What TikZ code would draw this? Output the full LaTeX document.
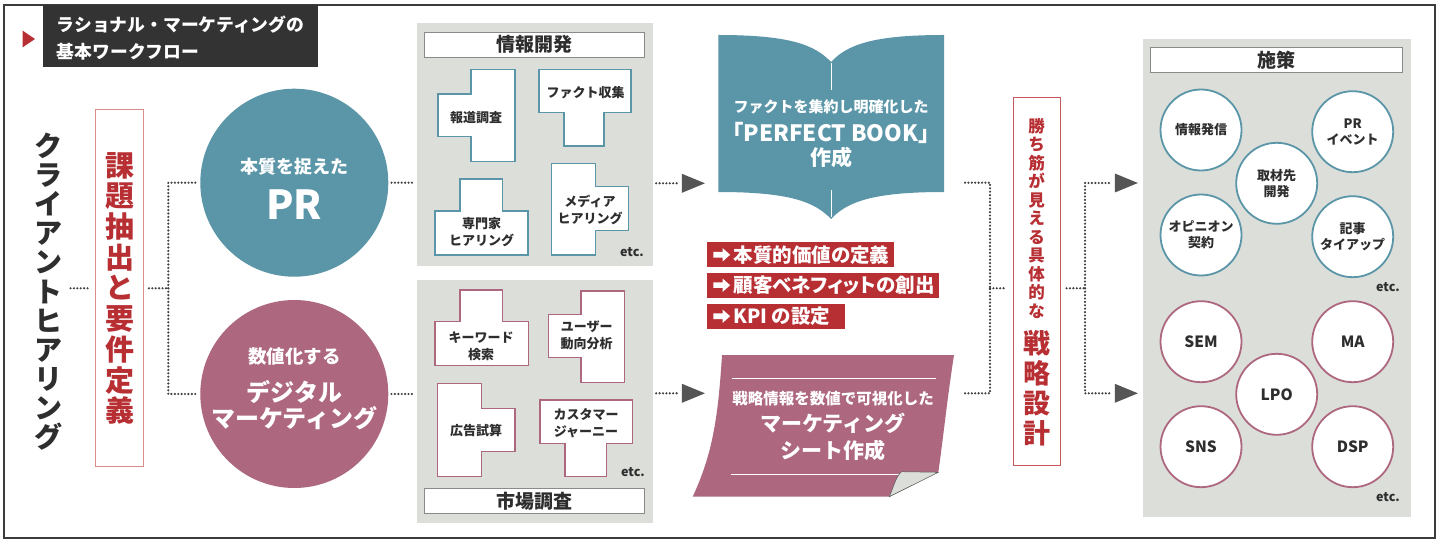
\documentclass[tikz,border=0pt]{standalone}
\usepackage{fontspec}
\setmainfont{Noto Sans CJK JP}
\newfontfamily\jpp{Noto Sans CJK JP}[RawFeature=+palt]
\usetikzlibrary{shapes.geometric}
\newcommand\fsz[2]{\fontsize{#1}{#2}\selectfont}
\newcommand\blockarrow[1]{\fill[white] ([xshift=6.6pt]#1.west) ++(0,-2.8) -- ++(9.4,0) -- ++(0,-3.8) -- ++(7.4,6.6) -- ++(-7.4,6.6) -- ++(0,-3.8) -- ++(-9.4,0) -- cycle;}
\definecolor{cTeal}{HTML}{5B96A8}
\definecolor{cMaroon}{HTML}{AD687F}
\definecolor{cRed}{HTML}{B72F33}
\definecolor{cPanel}{HTML}{DCDEDA}
\definecolor{cDark}{HTML}{333333}
\definecolor{cArrow}{HTML}{555555}
\definecolor{cDot}{HTML}{404040}
\definecolor{cText}{HTML}{2E2E2E}
\definecolor{cPink}{HTML}{DA8C8C}
\definecolor{cTB}{HTML}{8A8A8A}
\definecolor{cFrame}{HTML}{3C3C3C}
\definecolor{cCurl}{HTML}{DCDEDA}
\tikzset{
  dotline/.style={draw=cDot, line width=2.4pt, line cap=round, dash pattern=on 0pt off 3.4pt},
  tri/.style={isosceles triangle, isosceles triangle stretches, fill=cArrow, minimum width=19pt, minimum height=23pt, inner sep=0pt},
  panel/.style={rectangle, fill=cPanel, inner sep=0pt},
  ptitle/.style={rectangle, fill=white, draw=cTB, line width=0.8pt, inner sep=0pt, font=\fsz{19}{22}\bfseries, text=cText},
  etcs/.style={font=\fsz{12.5}{14}\bfseries, text=cText, inner sep=0pt},
  ptext/.style={font=\fsz{13}{17}\bfseries, text=cText, align=center, inner sep=0pt},
  bshape/.style={draw=cTeal, line width=1.5pt, fill=white},
  mshape/.style={draw=cMaroon, line width=1.5pt, fill=white},
  tcirc/.style={circle, draw=cTeal, line width=1.8pt, fill=white, minimum size=81pt, inner sep=0pt, align=center, font=\fsz{13}{16}\bfseries, text=cText},
  mcirc/.style={circle, draw=cMaroon, line width=1.8pt, fill=white, minimum size=81pt, inner sep=0pt, align=center, font=\fsz{15.5}{18}\bfseries, text=cText},
  redlbl/.style={rectangle, fill=cRed, text=white, anchor=west, minimum height=25pt, inner xsep=6.6pt, inner ysep=0pt, font=\fsz{19.5}{22}\bfseries\jpp},
  wtext/.style={text=white, inner sep=0pt, align=center},
}
\begin{document}
\begin{tikzpicture}[x=1pt,y=-1pt]
\useasboundingbox (0,0) rectangle (1440,545);
\fill[white] (0,0) rectangle (1440,545);
% outer frame
\draw[cFrame, line width=2pt] (4,5) rectangle (1435,538);
% title block
\fill[cDark] (43.3,5) rectangle (318.3,67.3);
\node[anchor=west, text=white, inner sep=0pt, font=\fsz{17.8}{20}\bfseries] (title1) at (56.7,25) {ラショナル・マーケティングの};
\node[anchor=west, text=white, inner sep=0pt, font=\fsz{17.8}{20}\bfseries] (title2) at (56.7,51.7) {基本ワークフロー};
\fill[cRed] (22.7,30.7) -- (35,39) -- (22.7,47.3) -- cycle;

% client hearing
\node[font=\fsz{28}{29.1}\bfseries, text=cText, align=center, inner sep=0pt] (client) at (48.3,291.7)
  {ク\\ラ\\イ\\ア\\ン\\ト\\ヒ\\ア\\リ\\ン\\グ};
% issue box
\node[draw=cPink, line width=1.2pt, fill=white, minimum width=47.6pt, minimum height=357.4pt, inner sep=0pt] (issue) at (119.5,288) {};
\node[font=\fsz{29}{30.7}\bfseries, text=cRed, align=center, inner sep=0pt] (issueT) at (119.5,288.3)
  {課\\題\\抽\\出\\と\\要\\件\\定\\義};

% big circles
\node[circle, fill=cTeal, minimum size=188pt, inner sep=0pt] (PR) at (294.3,182.7) {};
\node[wtext, font=\fsz{18}{20}\bfseries] (PRa) at (294.3,166.7) {本質を捉えた};
\node[wtext, font=\fsz{40}{44}\bfseries] (PRb) at (294.3,205) {PR};
\node[circle, fill=cMaroon, minimum size=188pt, inner sep=0pt] (DM) at (294.3,394) {};
\node[wtext, font=\fsz{18.5}{20}\bfseries] (DMa) at (294.3,356) {数値化する};
\node[wtext, font=\fsz{24}{26}\bfseries] (DMb) at (294.3,391.7) {デジタル};
\node[wtext, font=\fsz{24}{26}\bfseries] (DMc) at (294.3,418.3) {マーケティング};

% panels
\node[panel, minimum width=236pt, minimum height=243pt] (infoP) at (535,144.5) {};
\node[panel, minimum width=236pt, minimum height=243pt] (mktP) at (535,401.5) {};
\node[ptitle, minimum width=220pt, minimum height=25pt] (infoT) at (534,44.5) {情報開発};
\node[ptitle, minimum width=220pt, minimum height=25pt] (mktT) at (534,501) {市場調査};

% info shapes
\draw[bshape] (471,69.3) -- (515,69.3) -- (515,161.7) -- (471,161.7) -- (471,136.7) -- (438,136.7) -- (438,94) -- (471,94) -- cycle;
\draw[bshape] (539,69.3) -- (631,69.3) -- (631,112.7) -- (604,112.7) -- (604,146) -- (564,146) -- (564,112.7) -- (539,112.7) -- cycle;
\draw[bshape] (460,179) -- (502.7,179) -- (502.7,211) -- (528,211) -- (528,255) -- (435,255) -- (435,211) -- (460,211) -- cycle;
\draw[bshape] (551.7,163.3) -- (595.7,163.3) -- (595.7,186.7) -- (628.3,186.7) -- (628.3,230.7) -- (595.7,230.7) -- (595.7,255) -- (551.7,255) -- cycle;
\node[ptext] (s1) at (476,117.3) {報道調査};
\node[ptext] (s2) at (585.7,92.7) {ファクト収集};
\node[ptext] (s3) at (481.7,231.7) {専門家\\ヒアリング};
\node[ptext] (s4) at (590,210) {メディア\\ヒアリング};
\node[etcs] (etc1) at (632,252) {etc.};

% market shapes
\draw[mshape] (460,290) -- (502.7,290) -- (502.7,321.7) -- (528.3,321.7) -- (528.3,365.7) -- (435,365.7) -- (435,321.7) -- (460,321.7) -- cycle;
\draw[mshape] (581,291) -- (624.3,291) -- (624.3,382.3) -- (581,382.3) -- (581,357.7) -- (548.3,357.7) -- (548.3,314.3) -- (581,314.3) -- cycle;
\draw[mshape] (437.7,383.3) -- (481.7,383.3) -- (481.7,408.3) -- (515,408.3) -- (515,451.7) -- (481.7,451.7) -- (481.7,476.7) -- (437.7,476.7) -- cycle;
\draw[mshape] (540,400) -- (632.7,400) -- (632.7,443.3) -- (606.7,443.3) -- (606.7,476.7) -- (565,476.7) -- (565,443.3) -- (540,443.3) -- cycle;
\node[ptext] (s5) at (481,345.8) {キーワード\\検索};
\node[ptext] (s6) at (586.7,335.8) {ユーザー\\動向分析};
\node[ptext] (s7) at (476,431) {広告試算};
\node[ptext] (s8) at (586,422.7) {カスタマー\\ジャーニー};
\node[etcs] (etc2) at (633,472) {etc.};

% triangles
\node[tri] (t1) at (688.3,183.3) {};
\node[tri] (t2) at (688.3,393.3) {};
\node[tri] (t3) at (1121.2,183) {};
\node[tri] (t4) at (1121.2,393.3) {};

% book
\fill[cTeal] (718.3,35) .. controls (790,35) and (815,45) .. (831,62)
  .. controls (847,45) and (872,35) .. (944,35) -- (944,192)
  .. controls (872,192) and (847,202) .. (831,219)
  .. controls (815,202) and (790,192) .. (718.3,192) -- cycle;
\draw[white, line width=0.9pt] (831,63) -- (831,90);
\draw[white, line width=0.9pt] (831,190) -- (831,217);
\node[inner sep=0pt, minimum width=226pt, minimum height=184pt] (book) at (831,127) {};
\node[wtext, font=\fsz{15}{17}\bfseries] (bk1) at (831,106.7) {ファクトを集約し明確化した};
\node[wtext, font=\fsz{22.5}{24}\bfseries] (bk2) at (831,133.3) {「PERFECT BOOK」};
\node[wtext, font=\fsz{21}{23}\bfseries] (bk3) at (831,158) {作成};

% red labels
\node[redlbl] (L1) at (706.7,254.8) {\makebox[174.1pt][l]{\hspace{20pt}本質的価値の定義}};
\node[redlbl] (L2) at (706.7,285.2) {\makebox[219.1pt][l]{\hspace{20pt}顧客ベネフィットの創出}};
\node[redlbl] (L3) at (706.7,316.2) {\makebox[125.1pt][l]{\hspace{20pt}KPI の設定}};
\blockarrow{L1}
\blockarrow{L2}
\blockarrow{L3}

% sheet
\fill[cMaroon] (722,355) -- (954,355) .. controls (947,400) and (943,440) .. (938.3,472.3)
  -- (889.3,496.7) -- (692.7,496.7) .. controls (712,455) and (718,420) .. (722,355) -- cycle;
\draw[white, line width=0.8pt] (732,378.3) -- (936,378.3);
\draw[white, line width=0.8pt] (731,474) -- (901.7,474);
\filldraw[fill=cCurl, draw=cArrow, line width=0.5pt] (889.3,496.7) .. controls (894,486) and (896,476) .. (901.7,471.7) -- (938.3,472.3) -- cycle;
\node[inner sep=0pt, minimum width=262pt, minimum height=142pt] (sheet) at (823,426) {};
\node[wtext, font=\fsz{15.5}{17}\bfseries] (sh1) at (833,398.3) {戦略情報を数値で可視化した};
\node[wtext, font=\fsz{21}{23}\bfseries] (sh2) at (833,423.3) {マーケティング};
\node[wtext, font=\fsz{21}{23}\bfseries] (sh3) at (833,450) {シート作成};

% strategy box
\node[draw=cRed!80, line width=1pt, fill=white, minimum width=46.7pt, minimum height=367.7pt, inner sep=0pt] (strat) at (1036.7,281.2) {};
\node[font=\fsz{16.5}{18.5}\bfseries, text=cRed, align=center, inner sep=0pt] (stratS) at (1036.7,218.3)
  {勝\\ち\\筋\\が\\見\\え\\る\\具\\体\\的\\な};
\node[font=\fsz{27}{30}\bfseries, text=cRed, align=center, inner sep=0pt] (stratB) at (1036.7,388.3)
  {戦\\略\\設\\計};

% right panel
\node[panel, minimum width=268pt, minimum height=477.7pt] (sesP) at (1276.7,277.8) {};
\node[ptitle, minimum width=252pt, minimum height=25.4pt] (sesT) at (1276.7,60) {施策};
\node[tcirc] (c1) at (1201,130) {情報発信};
\node[tcirc] (c2) at (1352.7,131.7) {PR\\イベント};
\node[tcirc] (c3) at (1276.7,183.3) {取材先\\開発};
\node[tcirc] (c4) at (1201,235) {オピニオン\\契約};
\node[tcirc] (c5) at (1352.7,236.7) {記事\\タイアップ};
\node[etcs] (etc3) at (1388,287) {etc.};
\node[mcirc] (m1) at (1201,341.7) {SEM};
\node[mcirc] (m2) at (1352.7,341.7) {MA};
\node[mcirc] (m3) at (1276.7,394.3) {LPO};
\node[mcirc] (m4) at (1201,446.7) {SNS};
\node[mcirc] (m5) at (1352.7,446.7) {DSP};
\node[etcs] (etc4) at (1388,497) {etc.};

% connectors left
\coordinate (jL) at (168.3,288.3);
\draw[dotline] ([xshift=8pt]client.east |- jL) -- ([xshift=-7pt]issue.west |- jL);
\draw[dotline] ([xshift=5pt]issue.east |- jL) -- (jL);
\draw[dotline, shorten >=3pt] (jL) |- (PR.west);
\draw[dotline, shorten >=3pt] (jL) |- (DM.west);
\draw[dotline, shorten <=3pt, shorten >=3pt] (PR.east) -- (infoP.west |- PR.east);
\draw[dotline, shorten <=3pt, shorten >=3pt] (DM.east) -- (mktP.west |- DM.east);
\draw[dotline, shorten <=3pt, shorten >=2pt] (infoP.east |- t1) -- (t1.west);
\draw[dotline, shorten <=3pt, shorten >=2pt] (mktP.east |- t2) -- (t2.west);
% connectors right
\coordinate (bo) at (965,182.7);
\coordinate (so) at (965,393.3);
\coordinate (jR) at (990,288.3);
\draw[dotline] (bo) -| (jR);
\draw[dotline] (so) -| (jR);
\draw[dotline, shorten >=6pt] (jR) -- (strat.west |- jR);
\coordinate (jS) at (1085,288.3);
\draw[dotline, shorten <=6pt] (strat.east |- jS) -- (jS);
\draw[dotline, shorten >=3pt] (jS) |- (t3.west);
\draw[dotline, shorten >=3pt] (jS) |- (t4.west);
\end{tikzpicture}
\end{document}
